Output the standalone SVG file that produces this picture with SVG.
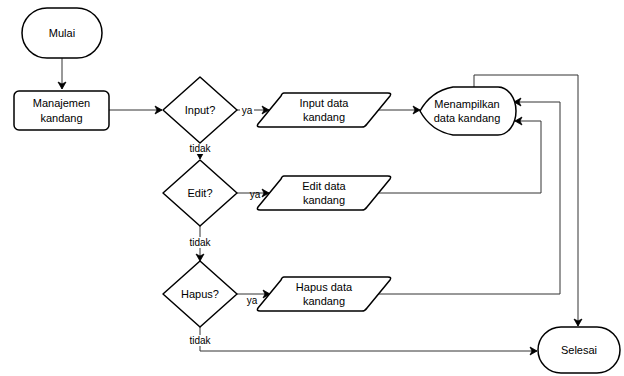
<svg xmlns="http://www.w3.org/2000/svg" width="624" height="376" viewBox="0 0 624 376">
<style>
.s{fill:#fff;stroke:#000;stroke-width:1.5;stroke-linejoin:round}
.c{fill:none;stroke:#333;stroke-width:1}
.t{font-family:"Liberation Sans",Arial,sans-serif;font-size:11px;fill:#000;text-anchor:middle}
.l{font-family:"Liberation Sans",Arial,sans-serif;font-size:10px;fill:#000;text-anchor:middle}
</style>
<defs>
<marker id="a" markerWidth="10" markerHeight="10" refX="8" refY="5" orient="auto" markerUnits="userSpaceOnUse">
<path d="M1,1 L8,5 L1,9 L3,5 Z" fill="#000" stroke="#000" stroke-width="0.8"/>
</marker>
</defs>
<rect width="624" height="376" fill="#fff"/>
<g id="connectors">
<path class="c" d="M62,58 V89" marker-end="url(#a)"/>
<path class="c" d="M109,110 H162" marker-end="url(#a)"/>
<path class="c" d="M237,110 H269" marker-end="url(#a)"/>
<path class="c" d="M378,110 H420" marker-end="url(#a)"/>
<path class="c" d="M200,143 V159" marker-end="url(#a)"/>
<path class="c" d="M237,193 H269" marker-end="url(#a)"/>
<path class="c" d="M200,226 V261" marker-end="url(#a)"/>
<path class="c" d="M237,294 H270" marker-end="url(#a)"/>
<path class="c" d="M200,327 V351 H537" marker-end="url(#a)"/>
<path class="c" d="M474,87 V75 H578 V326" marker-end="url(#a)"/>
<path class="c" d="M376,193 H541 V121 H515" marker-end="url(#a)"/>
<path class="c" d="M374,294 H560 V102 H514" marker-end="url(#a)"/>
<rect x="240" y="105" width="14" height="11" fill="#fff"/>
<text class="l" x="247" y="114">ya</text>
<text class="l" x="255" y="198">ya</text>
<text class="l" x="252" y="304">ya</text>
<rect x="188" y="143" width="24" height="11" fill="#fff"/>
<text class="l" x="200" y="152">tidak</text>
<rect x="188" y="237" width="24" height="11" fill="#fff"/>
<text class="l" x="200" y="246">tidak</text>
<rect x="188" y="335" width="24" height="11" fill="#fff"/>
<text class="l" x="200" y="344">tidak</text>
</g>
<g id="mulai">
<rect class="s" x="22" y="8" width="80" height="50" rx="25"/>
<text class="t" x="62" y="37">Mulai</text>
</g>
<g id="manajemen">
<rect class="s" x="14" y="91" width="95" height="39" rx="5"/>
<text class="t" x="61.5" y="107">Manajemen</text>
<text class="t" x="61.5" y="122">kandang</text>
</g>
<g id="input">
<path class="s" d="M200,77 L237,110 L200,143 L163,110 Z"/>
<text class="t" x="200" y="114">Input?</text>
</g>
<g id="input-data">
<path class="s" d="M284,93 H388 Q392,93 390,96 L367,124 Q365,127 362,127 H260 Q256,127 258,124 L281,96 Q282,93 284,93 Z"/>
<text class="t" x="324" y="107">Input data</text>
<text class="t" x="324" y="121">kandang</text>
</g>
<g id="menampilkan">
<path class="s" d="M453,87 H498 A18,24 0 0 1 498,135 H453 Q431,131 420,111 Q431,91 453,87 Z"/>
<text class="t" x="467" y="108">Menampilkan</text>
<text class="t" x="467" y="122">data kandang</text>
</g>
<g id="edit">
<path class="s" d="M200,160 L237,193 L200,226 L163,193 Z"/>
<text class="t" x="200" y="197">Edit?</text>
</g>
<g id="edit-data">
<path class="s" d="M284,176 H388 Q392,176 390,179 L367,207 Q365,210 362,210 H260 Q256,210 258,207 L281,179 Q282,176 284,176 Z"/>
<text class="t" x="324" y="190">Edit data</text>
<text class="t" x="324" y="204">kandang</text>
</g>
<g id="hapus">
<path class="s" d="M200,261 L237,294 L200,327 L163,294 Z"/>
<text class="t" x="200" y="298">Hapus?</text>
</g>
<g id="hapus-data">
<path class="s" d="M284,277 H388 Q392,277 390,280 L367,308 Q365,311 362,311 H260 Q256,311 258,308 L281,280 Q282,277 284,277 Z"/>
<text class="t" x="324" y="291">Hapus data</text>
<text class="t" x="324" y="305">kandang</text>
</g>
<g id="selesai">
<rect class="s" x="538" y="327" width="82" height="46" rx="23"/>
<text class="t" x="579" y="354">Selesai</text>
</g>
</svg>
